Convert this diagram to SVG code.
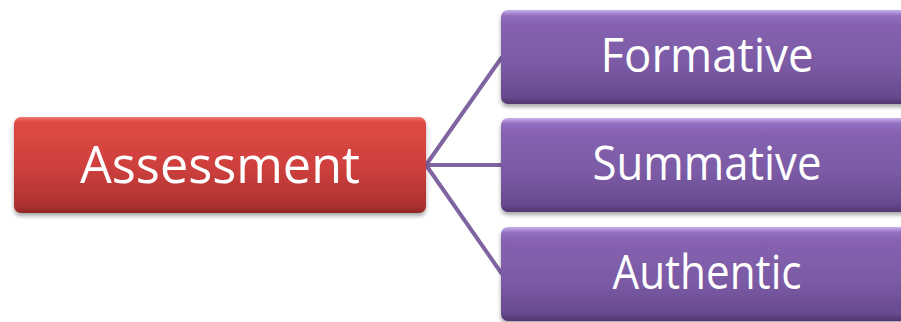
<svg xmlns="http://www.w3.org/2000/svg" width="901" height="322" viewBox="0 0 901 322">
<defs>
<linearGradient id="gRed" x1="0" y1="0" x2="0" y2="1">
<stop offset="0" stop-color="#F07A74"/>
<stop offset="0.05" stop-color="#DE4A45"/>
<stop offset="0.5" stop-color="#CF403D"/>
<stop offset="0.92" stop-color="#AE3230"/>
<stop offset="1" stop-color="#8E2624"/>
</linearGradient>
<linearGradient id="gPur" x1="0" y1="0" x2="0" y2="1">
<stop offset="0" stop-color="#C8B0EC"/>
<stop offset="0.06" stop-color="#9270C0"/>
<stop offset="0.15" stop-color="#8662B0"/>
<stop offset="0.6" stop-color="#7A5AA4"/>
<stop offset="0.92" stop-color="#674A8E"/>
<stop offset="1" stop-color="#4E3670"/>
</linearGradient>
<filter id="sh" x="-5%" y="-10%" width="110%" height="130%">
<feGaussianBlur in="SourceAlpha" stdDeviation="2"/>
<feOffset dx="0" dy="3" result="b"/>
<feComponentTransfer><feFuncA type="linear" slope="0.35"/></feComponentTransfer>
<feMerge><feMergeNode/><feMergeNode in="SourceGraphic"/></feMerge>
</filter>
</defs>
<style>
.lbl{font-family:"Open Sans","Liberation Sans",sans-serif;fill:#FFFFFF;text-anchor:middle}
.conn{stroke:#8064A2;stroke-width:4;fill:none}
</style>
<g id="connectors">
<line class="conn" x1="426" y1="165" x2="502" y2="57"/>
<line class="conn" x1="426" y1="165" x2="502" y2="165"/>
<line class="conn" x1="426" y1="165" x2="502" y2="274"/>
</g>
<g id="node-assessment">
<rect x="14" y="117" width="412" height="96" rx="7" fill="url(#gRed)" filter="url(#sh)"/>
<text class="lbl" x="220" y="183" font-size="52" textLength="280" lengthAdjust="spacingAndGlyphs">Assessment</text>
</g>
<g id="node-formative">
<rect x="501" y="10" width="420" height="94" rx="7" fill="url(#gPur)" filter="url(#sh)"/>
<text class="lbl" x="707" y="72" font-size="47" textLength="213" lengthAdjust="spacingAndGlyphs">Formative</text>
</g>
<g id="node-summative">
<rect x="501" y="118" width="420" height="94" rx="7" fill="url(#gPur)" filter="url(#sh)"/>
<text class="lbl" x="707" y="180" font-size="47" textLength="229" lengthAdjust="spacingAndGlyphs">Summative</text>
</g>
<g id="node-authentic">
<rect x="501" y="227" width="420" height="94" rx="7" fill="url(#gPur)" filter="url(#sh)"/>
<text class="lbl" x="707" y="289" font-size="47" textLength="189" lengthAdjust="spacingAndGlyphs">Authentic</text>
</g>
</svg>
